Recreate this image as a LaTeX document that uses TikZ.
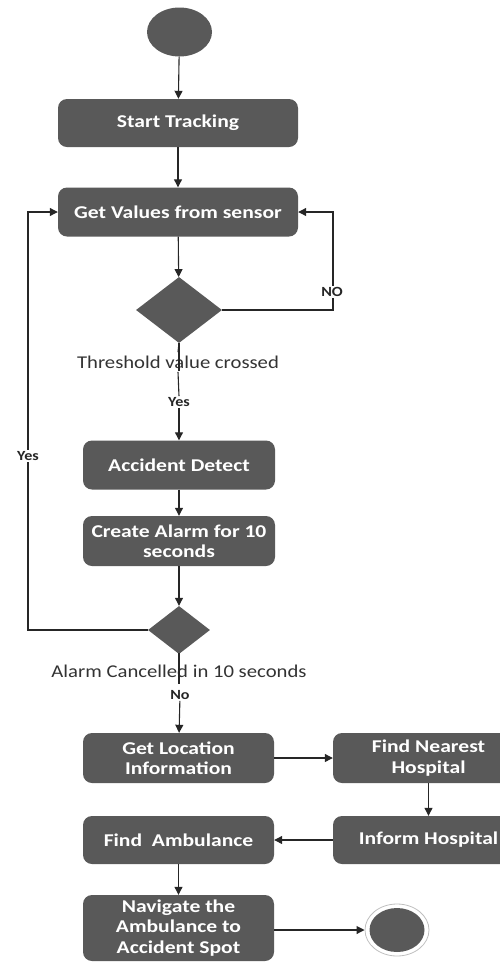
\documentclass[tikz,border=0pt]{standalone}
\usepackage{fontspec}
\setmainfont{Carlito}[FakeStretch=1.15]
\newfontfamily\boxfont{Carlito}[FakeStretch=1.2]
\usetikzlibrary{arrows.meta,shapes.geometric}
\definecolor{boxgray}{HTML}{595959}
\definecolor{linegray}{HTML}{262626}
\begin{document}
\begin{tikzpicture}[x=1pt,y=-1pt,
  act/.style={draw=none,fill=boxgray,rounded corners=9pt,text=white,
    font=\boxfont\fontsize{18}{20.5}\selectfont\bfseries,align=center,
    minimum width=192pt,minimum height=49pt,inner sep=2pt},
  dec/.style={diamond,draw=none,fill=boxgray,inner sep=0pt},
  flow/.style={draw=linegray,line width=1.1pt,-{Triangle[length=8pt,width=8pt]}},
  plain/.style={draw=linegray,line width=1.1pt},
  captext/.style={font=\fontsize{18}{20}\selectfont,text=black!80},
  lbl/.style={font=\fontsize{14}{16}\selectfont\bfseries,fill=white,inner sep=1pt,text=black!85}]
\useasboundingbox (0,0) rectangle (500,962);
\clip (0,0) rectangle (500,962);
% start
\node[ellipse,fill=boxgray,minimum width=65pt,minimum height=49pt,inner sep=0pt] (start) at (179.5,32) {};
\node[act,minimum width=240pt,minimum height=48pt] (track) at (178,123) {Start Tracking};
\node[act,minimum width=240pt,minimum height=49pt] (get) at (178,212) {Get Values from sensor};
\node[dec,minimum width=86pt,minimum height=66pt] (d1) at (179,310) {};
\node[captext] (thr) at (178,362) {Threshold value crossed};
\node[lbl] (yes1) at (179,402) {Yes};
\node[act] (acc) at (179,465) {Accident Detect};
\node[act,minimum height=50pt] (alarm) at (179,541) {Create Alarm for 10\\seconds};
\node[dec,minimum width=62pt,minimum height=48pt] (d2) at (179,630) {};
\node[captext] (canc) at (179,671) {Alarm Cancelled in 10 seconds};
\node[lbl] (no2) at (180,695) {No};
\node[act,minimum width=191pt,minimum height=50pt] (loc) at (178.5,758) {Get Location\\Information};
\node[act,minimum width=191pt,minimum height=50pt] (near) at (428.5,758) {Find Nearest\\Hospital};
\node[act,minimum width=191pt,minimum height=48pt] (inform) at (428.5,840) {Inform Hospital};
\node[act,minimum width=191pt,minimum height=48pt] (amb) at (178.5,840) {Find\ \ Ambulance};
\node[act,minimum width=191pt,minimum height=66pt] (nav) at (178.5,928) {Navigate the\\Ambulance to\\Accident Spot};
\node[ellipse,fill=boxgray,minimum width=55pt,minimum height=44pt,inner sep=0pt,outer sep=0pt] (end) at (397,930) {};
\draw[draw=black!25,line width=0.8pt] (end.center) ellipse (32pt and 26pt);
% connectors
\draw[flow] (start) -- (track);
\draw[flow] (track) -- (get);
\draw[flow] (get) -- (d1);
\coordinate (nr) at (333,310);
\coordinate (nt) at (333,212);
\draw[flow] (d1.east) -- (nr) -- (nt) -- (get.east);
\node[lbl] (nolbl) at (332,292) {NO};
\draw[plain] (d1.south) -- (thr.north);
\draw[plain] (thr.south) -- (yes1.north);
\draw[flow] (yes1) -- (acc);
\draw[flow] (acc) -- (alarm);
\draw[flow] (alarm) -- (d2);
\coordinate (yl) at (28,630);
\coordinate (yt) at (28,212);
\draw[flow] (d2.west) -- (yl) -- (yt) -- (get.west);
\node[lbl] (yes2) at (28,456) {Yes};
\draw[plain] (d2.south) -- (canc.north);
\draw[flow] (no2) -- (loc);
\draw[flow] (loc) -- (near);
\draw[flow] (near) -- (inform);
\draw[flow] (inform) -- (amb);
\draw[flow] (amb) -- (nav);
\draw[flow] (nav.east |- end) -- ([xshift=-5pt]end.west);
% the reference draws the line over the caption text
\draw[plain] (179,343) -- (179,371);
\draw[plain] (179,653) -- (179,684);
\end{tikzpicture}
\end{document}
